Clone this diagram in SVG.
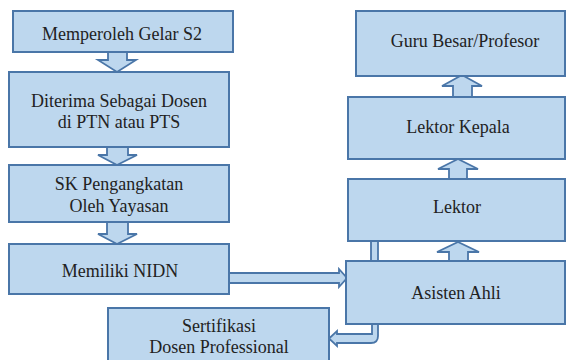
<svg xmlns="http://www.w3.org/2000/svg" width="567" height="360" viewBox="0 0 567 360">
<style>
.box{fill:#bdd7ee;stroke:#4a76a8;stroke-width:2}
.arr{fill:#bdd7ee;stroke:#4a76a8;stroke-width:1.8;stroke-linejoin:miter}
.t{font-family:'Liberation Serif','Times New Roman',Times,'DejaVu Serif',serif;font-size:18px;fill:#222;text-anchor:middle}
</style>
<rect width="567" height="360" fill="#fff"/>
<g id="connectors">
<path class="arr" d="M108,52 L127,52 L127,60 L136,60 L117,72 L98,60 L108,60 Z"/>
<path class="arr" d="M107,147 L128,147 L128,155 L137,155 L117,165 L98,155 L107,155 Z"/>
<path class="arr" d="M107,222 L128,222 L128,234 L137,234 L117,244 L98,234 L107,234 Z"/>
<path class="arr" d="M453,97 L472,97 L472,86 L482,86 L462,75 L442,86 L453,86 Z"/>
<path class="arr" d="M449,179 L467,179 L467,169 L478,169 L458,159 L438,169 L449,169 Z"/>
<path class="arr" d="M449,261 L468,261 L468,252 L479,252 L458,242 L437,252 L449,252 Z"/>
<path class="arr" d="M229,273 L339,273 L339,269 L347,278 L339,287 L339,283 L229,283 Z"/>
<path class="arr" d="M372,324 L372,334 L337,334 L337,331 L329,338.5 L337,346 L337,343 L371,343 Q378,343 378,336 L378,324 Z"/>
<rect class="arr" x="371" y="241" width="7" height="20"/>
</g>
<g id="n1"><rect class="box" x="13" y="11" width="220" height="41"/><text class="t" x="122" y="40">Memperoleh Gelar S2</text></g>
<g id="n2"><rect class="box" x="9" y="72" width="220" height="75"/><text class="t" x="119" y="107">Diterima Sebagai Dosen</text><text class="t" x="119" y="128">di PTN atau PTS</text></g>
<g id="n3"><rect class="box" x="9" y="165" width="220" height="57"/><text class="t" x="119" y="190">SK Pengangkatan</text><text class="t" x="119" y="212">Oleh Yayasan</text></g>
<g id="n4"><rect class="box" x="9" y="244" width="220" height="50"/><text class="t" x="120" y="277">Memiliki NIDN</text></g>
<g id="n5"><rect class="box" x="108" y="308" width="221" height="60"/><text class="t" x="219" y="332">Sertifikasi</text><text class="t" x="219" y="353">Dosen Professional</text></g>
<g id="n6"><rect class="box" x="356" y="11" width="209" height="65"/><text class="t" x="465" y="47">Guru Besar/Profesor</text></g>
<g id="n7"><rect class="box" x="348" y="97" width="217" height="62"/><text class="t" x="458" y="133">Lektor Kepala</text></g>
<g id="n8"><rect class="box" x="348" y="179" width="217" height="62"/><text class="t" x="457" y="213">Lektor</text></g>
<g id="n9"><rect class="box" x="346" y="261" width="219" height="63"/><text class="t" x="456" y="299">Asisten Ahli</text></g>
</svg>
